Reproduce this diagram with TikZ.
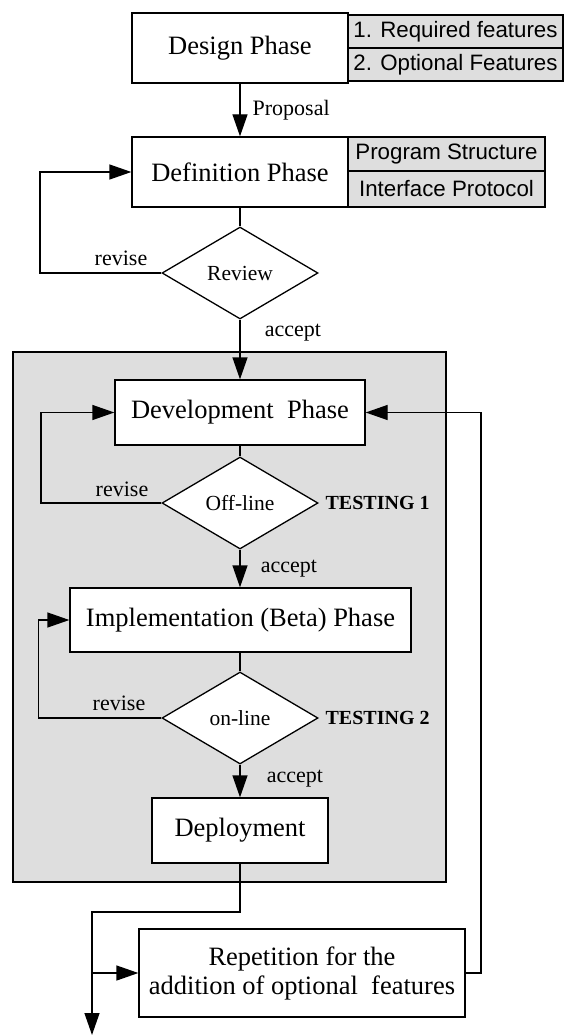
\documentclass[tikz,border=0pt]{standalone}
\usepackage{fontspec}
\setmainfont{Liberation Serif}
\setsansfont{Liberation Sans}
\usetikzlibrary{shapes.geometric,arrows.meta}
\definecolor{graybg}{RGB}{222,222,222}
\begin{document}
\begin{tikzpicture}[x=1pt,y=-1pt,
  line width=1.3pt,
  >={Triangle[length=22pt,width=15pt]},
  box/.style={draw,fill=white,inner sep=0pt,font=\fontsize{26.5}{29}\selectfont,align=center},
  side/.style={draw,fill=graybg,inner sep=0pt,font=\sffamily\fontsize{22.3}{26}\selectfont},
  dec/.style={draw,fill=white,diamond,inner sep=0pt,minimum width=156pt,minimum height=92pt,font=\fontsize{21.5}{24}\selectfont},
  lbl/.style={inner sep=0pt,font=\fontsize{22}{24}\selectfont},
  tst/.style={inner sep=0pt,anchor=west,font=\bfseries\fontsize{20}{22}\selectfont}]
\useasboundingbox (0,0) rectangle (563,1035);

% gray testing region
\draw[fill=graybg] (13,352) rectangle (446,882);

% boxes
\node[box,minimum width=216pt,minimum height=70pt] (design) at (240,48) {Design Phase};
\node[side,minimum width=215pt,minimum height=33pt] (req) at (455.5,31.5) {1. Required features};
\node[side,minimum width=215pt,minimum height=33pt] (opt) at (455.5,64.5) {2. Optional Features};

\node[box,minimum width=216pt,minimum height=70pt] (def) at (240,172) {Definition Phase};
\node[side,minimum width=197pt,minimum height=34pt] (prog) at (446.5,154) {Program Structure};
\node[side,minimum width=197pt,minimum height=36pt] (iface) at (446.5,189) {Interface Protocol};

\node[dec] (review) at (240,273) {Review};

\node[box,minimum width=250pt,minimum height=65pt] (dev) at (240,412.5) {Development~~Phase};
\node[dec] (offline) at (240,503) {Off-line};
\node[box,minimum width=341pt,minimum height=64pt] (impl) at (240.5,620) {Implementation (Beta) Phase};
\node[dec] (online) at (240,718) {on-line};
\node[box,minimum width=176pt,minimum height=65pt] (deploy) at (240,830.5) {Deployment};
\node[box,minimum width=326pt,minimum height=88pt] (rep) at (302,973) {Repetition for the\\addition of optional~~features};

% labels
\node[lbl,anchor=west] (lprop) at (252,110) {Proposal};
\node[lbl] (lrev1) at (121,258) {revise};
\node[lbl] (lacc1) at (293,333) {accept};
\node[lbl] (lrev2) at (122,489) {revise};
\node[lbl] (lacc2) at (289,569) {accept};
\node[lbl] (lrev3) at (119,703) {revise};
\node[lbl] (lacc3) at (295,779) {accept};
\node[tst] (t1) at (325,503) {TESTING 1};
\node[tst] (t2) at (325,718) {TESTING 2};

% connectors
\draw[->] (design.south) -- (def.north);
\draw (def.south) -- (review.north);
\draw[->] (review.west) -- (40,273) -- (40,172) -- (def.west);
\draw[->] (review.south) -- (dev.north);

\draw (dev.south) -- (offline.north);
\draw[->] (offline.west) -- (41,503) -- (41,412.5) -- (dev.west);
\draw[->] (offline.south) -- (impl.north -| offline.south);

\draw (impl.north -| impl.south) ++(0,0);
\draw (impl.south -| online.north) -- (online.north);
\draw[->] (online.west) -- (38.5,718) -- (38.5,620) -- (impl.west);
\draw[->] (online.south) -- (deploy.north);

\coordinate (corner) at (92,912);
\coordinate (branch) at (92,973);
\coordinate (out) at (92,1035);
\draw[->] (deploy.south) -- (240,912) -- (corner) -- (out);
\draw[->] (branch) -- (rep.west);
\draw[->] (rep.east) -- (481,973) -- (481,412.5) -- (dev.east);
\end{tikzpicture}
\end{document}
